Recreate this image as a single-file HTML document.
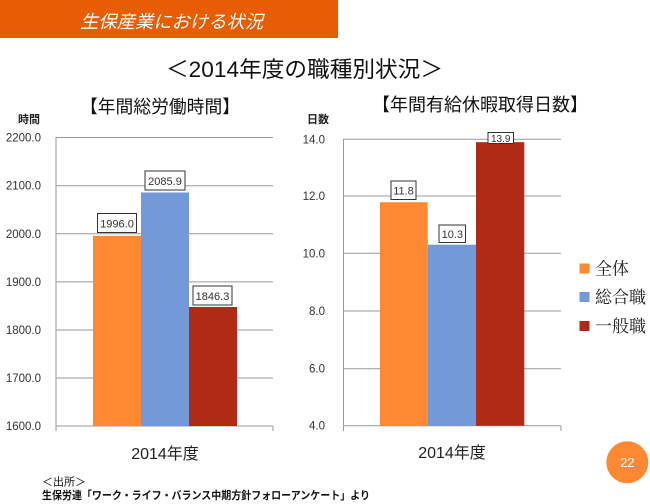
<!DOCTYPE html>
<html><head><meta charset="utf-8">
<style>
html,body{margin:0;padding:0;background:#fff;}
svg{display:block;}
.j{font-family:"Liberation Sans","Noto Sans CJK JP",sans-serif;}
.s{font-family:"Noto Serif CJK SC","Noto Serif CJK JP","Liberation Serif",serif;}
</style></head>
<body>
<svg width="650" height="504" viewBox="0 0 650 504" xmlns="http://www.w3.org/2000/svg">
<rect x="0" y="0" width="338" height="38" fill="#E85D04"/>
<text x="80" y="28" class="j" font-size="18" font-style="italic" fill="#fff" textLength="183" lengthAdjust="spacingAndGlyphs">生保産業における状況</text>

<text x="166" y="77" class="j" font-size="22" fill="#111" textLength="277" lengthAdjust="spacingAndGlyphs">＜2014年度の職種別状況＞</text>

<text x="80" y="113" class="j" font-size="18" fill="#111" textLength="160" lengthAdjust="spacingAndGlyphs">【年間総労働時間】</text>
<text x="372" y="111" class="j" font-size="18" fill="#111" textLength="216" lengthAdjust="spacingAndGlyphs">【年間有給休暇取得日数】</text>
<text x="18" y="123" class="j" font-size="11" font-weight="bold" fill="#222">時間</text>
<text x="307" y="123" class="j" font-size="11" font-weight="bold" fill="#222">日数</text>

<!-- left chart -->
<g stroke="#999" stroke-width="1">
<line x1="56" y1="137.5" x2="273" y2="137.5"/>
<line x1="56" y1="185.7" x2="273" y2="185.7"/>
<line x1="56" y1="233.8" x2="273" y2="233.8"/>
<line x1="56" y1="281.9" x2="273" y2="281.9"/>
<line x1="56" y1="330" x2="273" y2="330"/>
<line x1="56" y1="378" x2="273" y2="378"/>
<line x1="56" y1="426" x2="273" y2="426"/>
<line x1="56" y1="137" x2="56" y2="431"/>
<line x1="273" y1="426" x2="273" y2="431"/>
</g>
<g class="j" font-size="11.5" fill="#333" text-anchor="end">
<text x="41" y="141.5">2200.0</text>
<text x="41" y="189.7">2100.0</text>
<text x="41" y="237.8">2000.0</text>
<text x="41" y="285.9">1900.0</text>
<text x="41" y="334">1800.0</text>
<text x="41" y="382">1700.0</text>
<text x="41" y="430">1600.0</text>
</g>
<rect x="93" y="235.8" width="48" height="190.2" fill="#FF8833"/>
<rect x="141" y="192.5" width="48" height="233.5" fill="#7399D9"/>
<rect x="189" y="307" width="48" height="119" fill="#B02A16"/>
<g class="j" font-size="11" fill="#333" text-anchor="middle">
<rect x="97.5" y="213.5" width="39" height="19" fill="#fff" stroke="#333" stroke-width="1"/>
<text x="117" y="227.5">1996.0</text>
<rect x="145" y="171" width="40" height="19" fill="#fff" stroke="#333" stroke-width="1"/>
<text x="165" y="185">2085.9</text>
<rect x="193" y="286" width="39" height="19" fill="#fff" stroke="#333" stroke-width="1"/>
<text x="212.5" y="300">1846.3</text>
</g>
<text x="165" y="459" class="j" font-size="16" fill="#222" text-anchor="middle">2014年度</text>

<!-- right chart -->
<g stroke="#999" stroke-width="1">
<line x1="343.5" y1="139.3" x2="561" y2="139.3"/>
<line x1="343.5" y1="196" x2="561" y2="196"/>
<line x1="343.5" y1="253.3" x2="561" y2="253.3"/>
<line x1="343.5" y1="311" x2="561" y2="311"/>
<line x1="343.5" y1="368.7" x2="561" y2="368.7"/>
<line x1="343.5" y1="425.7" x2="561" y2="425.7"/>
<line x1="343.5" y1="139" x2="343.5" y2="431"/>
<line x1="561" y1="425.7" x2="561" y2="431"/>
</g>
<g class="j" font-size="11.5" fill="#333" text-anchor="end">
<text x="325" y="143.3">14.0</text>
<text x="325" y="200">12.0</text>
<text x="325" y="257.3">10.0</text>
<text x="325" y="315">8.0</text>
<text x="325" y="372.7">6.0</text>
<text x="325" y="429.7">4.0</text>
</g>
<rect x="380" y="202.2" width="47.7" height="223.5" fill="#FF8833"/>
<rect x="427.7" y="244.7" width="48.3" height="181" fill="#7399D9"/>
<rect x="476" y="142.2" width="48.3" height="283.5" fill="#B02A16"/>
<g class="j" font-size="11" fill="#333" text-anchor="middle">
<rect x="391" y="181" width="25" height="18.5" fill="#fff" stroke="#333" stroke-width="1"/>
<text x="403.5" y="194.5">11.8</text>
<rect x="439" y="225" width="26.5" height="17.5" fill="#fff" stroke="#333" stroke-width="1"/>
<text x="452.3" y="238">10.3</text>
<rect x="488" y="132.5" width="25.5" height="11" fill="#fff" stroke="#333" stroke-width="1"/>
<text x="500.7" y="142" font-size="10">13.9</text>
</g>
<text x="452" y="458" class="j" font-size="16" fill="#222" text-anchor="middle">2014年度</text>

<!-- legend -->
<rect x="579.5" y="263.5" width="10" height="10" fill="#FF8833"/>
<rect x="579.5" y="292" width="10" height="10" fill="#7399D9"/>
<rect x="579.5" y="321" width="10" height="10" fill="#B02A16"/>
<g class="s" font-size="17" fill="#222">
<text x="595" y="274.5">全体</text>
<text x="595" y="303">総合職</text>
<text x="595" y="332">一般職</text>
</g>

<circle cx="627.3" cy="462.3" r="21" fill="#FF8833"/>
<text x="627.3" y="467" class="j" font-size="13" fill="#fff" text-anchor="middle">22</text>

<text x="42" y="485.5" class="j" font-size="11" fill="#111">＜出所＞</text>
<text x="42" y="499" class="j" font-size="11" font-weight="bold" fill="#111" textLength="328" lengthAdjust="spacingAndGlyphs">生保労連「ワーク・ライフ・バランス中期方針フォローアンケート」より</text>
</svg>
</body></html>
